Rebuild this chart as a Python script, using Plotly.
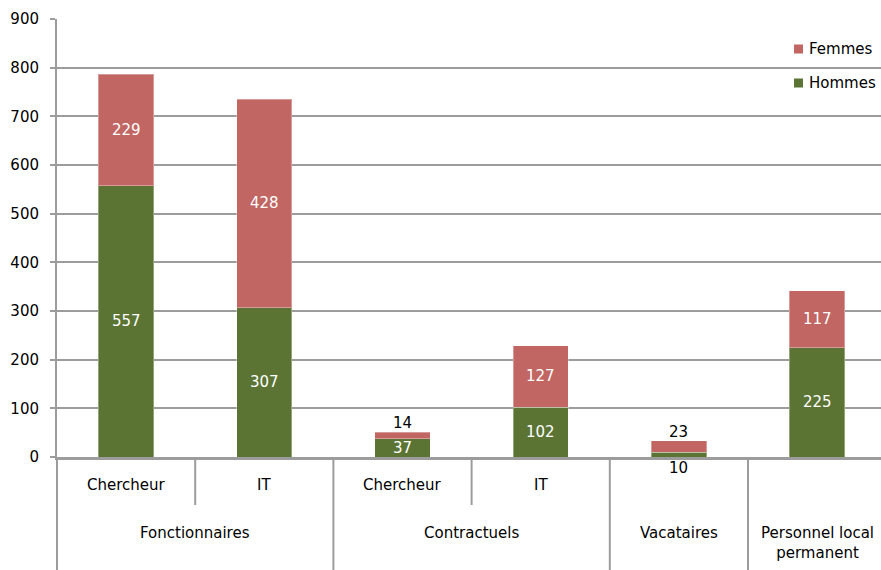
import plotly.graph_objects as go

# Staff headcounts by status and category
groups = ["Fonctionnaires", "Fonctionnaires", "Contractuels", "Contractuels",
          "Vacataires", "Personnel local permanent"]
subcats = ["Chercheur", "IT", "Chercheur", "IT", "", ""]
hommes = [557, 307, 37, 102, 10, 225]
femmes = [229, 428, 14, 127, 23, 117]
y_ticks = [0, 100, 200, 300, 400, 500, 600, 700, 800, 900]

GREEN = "#5b7434"
RED = "#c16662"
GRID = "#9c9c9c"
FONT = "DejaVu Sans"

# Canvas geometry (pixels)
W, H = 881, 570
ML, MT, MB = 57, 19, 113
plot_h = H - MT - MB
plot_w = W - ML
cat_px = 138.2
x_max = -0.5 + plot_w / cat_px
px_per_unit = plot_h / (y_ticks[-1] - y_ticks[0])


def py(pix):
    """Pixel row -> paper y fraction."""
    return (MT + plot_h - pix) / plot_h


def px(pix):
    """Pixel column -> paper x fraction."""
    return (pix - ML) / plot_w


keys = [f"{g} | {s}" for g, s in zip(groups, subcats)]

fig = go.Figure()
fig.add_trace(go.Bar(x=keys, y=hommes, name="Hommes", width=0.4,
                     marker=dict(color=GREEN, line=dict(color="rgba(255,255,255,0.35)", width=1)),
                     showlegend=False, hoverinfo="skip"))
fig.add_trace(go.Bar(x=keys, y=femmes, name="Femmes", width=0.4,
                     marker=dict(color=RED, line=dict(color="rgba(255,255,255,0.35)", width=1)),
                     showlegend=False, hoverinfo="skip"))

annotations = []
shapes = []

# Value labels: white inside tall segments, black outside short ones
for k, h, f in zip(keys, hommes, femmes):
    if h >= 30:
        annotations.append(dict(x=k, y=h / 2, text=str(h), showarrow=False,
                                font=dict(family=FONT, size=15, color="white")))
    else:
        annotations.append(dict(x=k, y=0, text=str(h), showarrow=False, yshift=-11,
                                font=dict(family=FONT, size=15, color="black")))
    if f >= 30:
        annotations.append(dict(x=k, y=h + f / 2, text=str(f), showarrow=False,
                                font=dict(family=FONT, size=15, color="white")))
    else:
        annotations.append(dict(x=k, y=h + f, text=str(f), showarrow=False, yshift=9,
                                font=dict(family=FONT, size=15, color="black")))

# Two-level category axis drawn below the plot
row1_y = py(485)
row2_y = py(533)
short_bottom = py(505)
long_bottom = py(H + 5)

for i, s in enumerate(subcats):
    if s:
        annotations.append(dict(x=i, xref="x", y=row1_y, yref="paper", text=s,
                                showarrow=False, yanchor="middle",
                                font=dict(family=FONT, size=15, color="black")))

start = 0
for i in range(1, len(groups) + 1):
    if i == len(groups) or groups[i] != groups[start]:
        center = (start + i - 1) / 2
        label = groups[start]
        if label == "Personnel local permanent":
            label = "Personnel local<br>permanent"
            yy = py(543)
        else:
            yy = row2_y
        annotations.append(dict(x=center, xref="x", y=yy, yref="paper", text=label,
                                showarrow=False, yanchor="middle",
                                font=dict(family=FONT, size=15, color="black")))
        start = i

for i in range(len(groups)):
    b = i + 0.5
    same = i + 1 < len(groups) and groups[i] == groups[i + 1]
    shapes.append(dict(type="line", xref="x", yref="paper", x0=b, x1=b,
                       y0=0, y1=short_bottom if same else long_bottom,
                       line=dict(color=GRID, width=2)))
# Left frame line continuing below the axis
shapes.append(dict(type="line", xref="paper", yref="paper", x0=0, x1=0,
                   y0=0, y1=long_bottom, line=dict(color=GRID, width=2)))

# Legend
for name, color, cy in [("Femmes", RED, 49), ("Hommes", GREEN, 83)]:
    shapes.append(dict(type="rect", xref="paper", yref="paper",
                       x0=px(794), x1=px(803), y0=py(cy + 4.5), y1=py(cy - 4.5),
                       fillcolor=color, line=dict(width=0)))
    annotations.append(dict(x=px(807), xref="paper", y=py(cy), yref="paper",
                            text=name, showarrow=False, xanchor="left", yanchor="middle",
                            font=dict(family=FONT, size=15, color="black")))

fig.update_layout(
    width=W, height=H,
    margin=dict(l=ML, r=0, t=MT, b=MB, pad=0),
    barmode="stack",
    paper_bgcolor="white", plot_bgcolor="white",
    font=dict(family=FONT, size=15, color="black"),
    annotations=annotations,
    shapes=shapes,
    showlegend=False,
)
fig.update_xaxes(type="category", categoryorder="array", categoryarray=keys,
                 range=[-0.5, x_max], showticklabels=False, ticks="",
                 showgrid=False, zeroline=False,
                 showline=True, linecolor=GRID, linewidth=3)
fig.update_yaxes(range=[y_ticks[0], y_ticks[-1]], tickvals=y_ticks,
                 ticks="outside", ticklen=5, tickcolor=GRID, tickwidth=1.5,
                 ticklabelstandoff=8,
                 showgrid=True, gridcolor=GRID, gridwidth=1.5,
                 zeroline=False, showline=True, linecolor=GRID, linewidth=2,
                 tickfont=dict(family=FONT, size=15, color="black"))

fig.write_html("out.html")
